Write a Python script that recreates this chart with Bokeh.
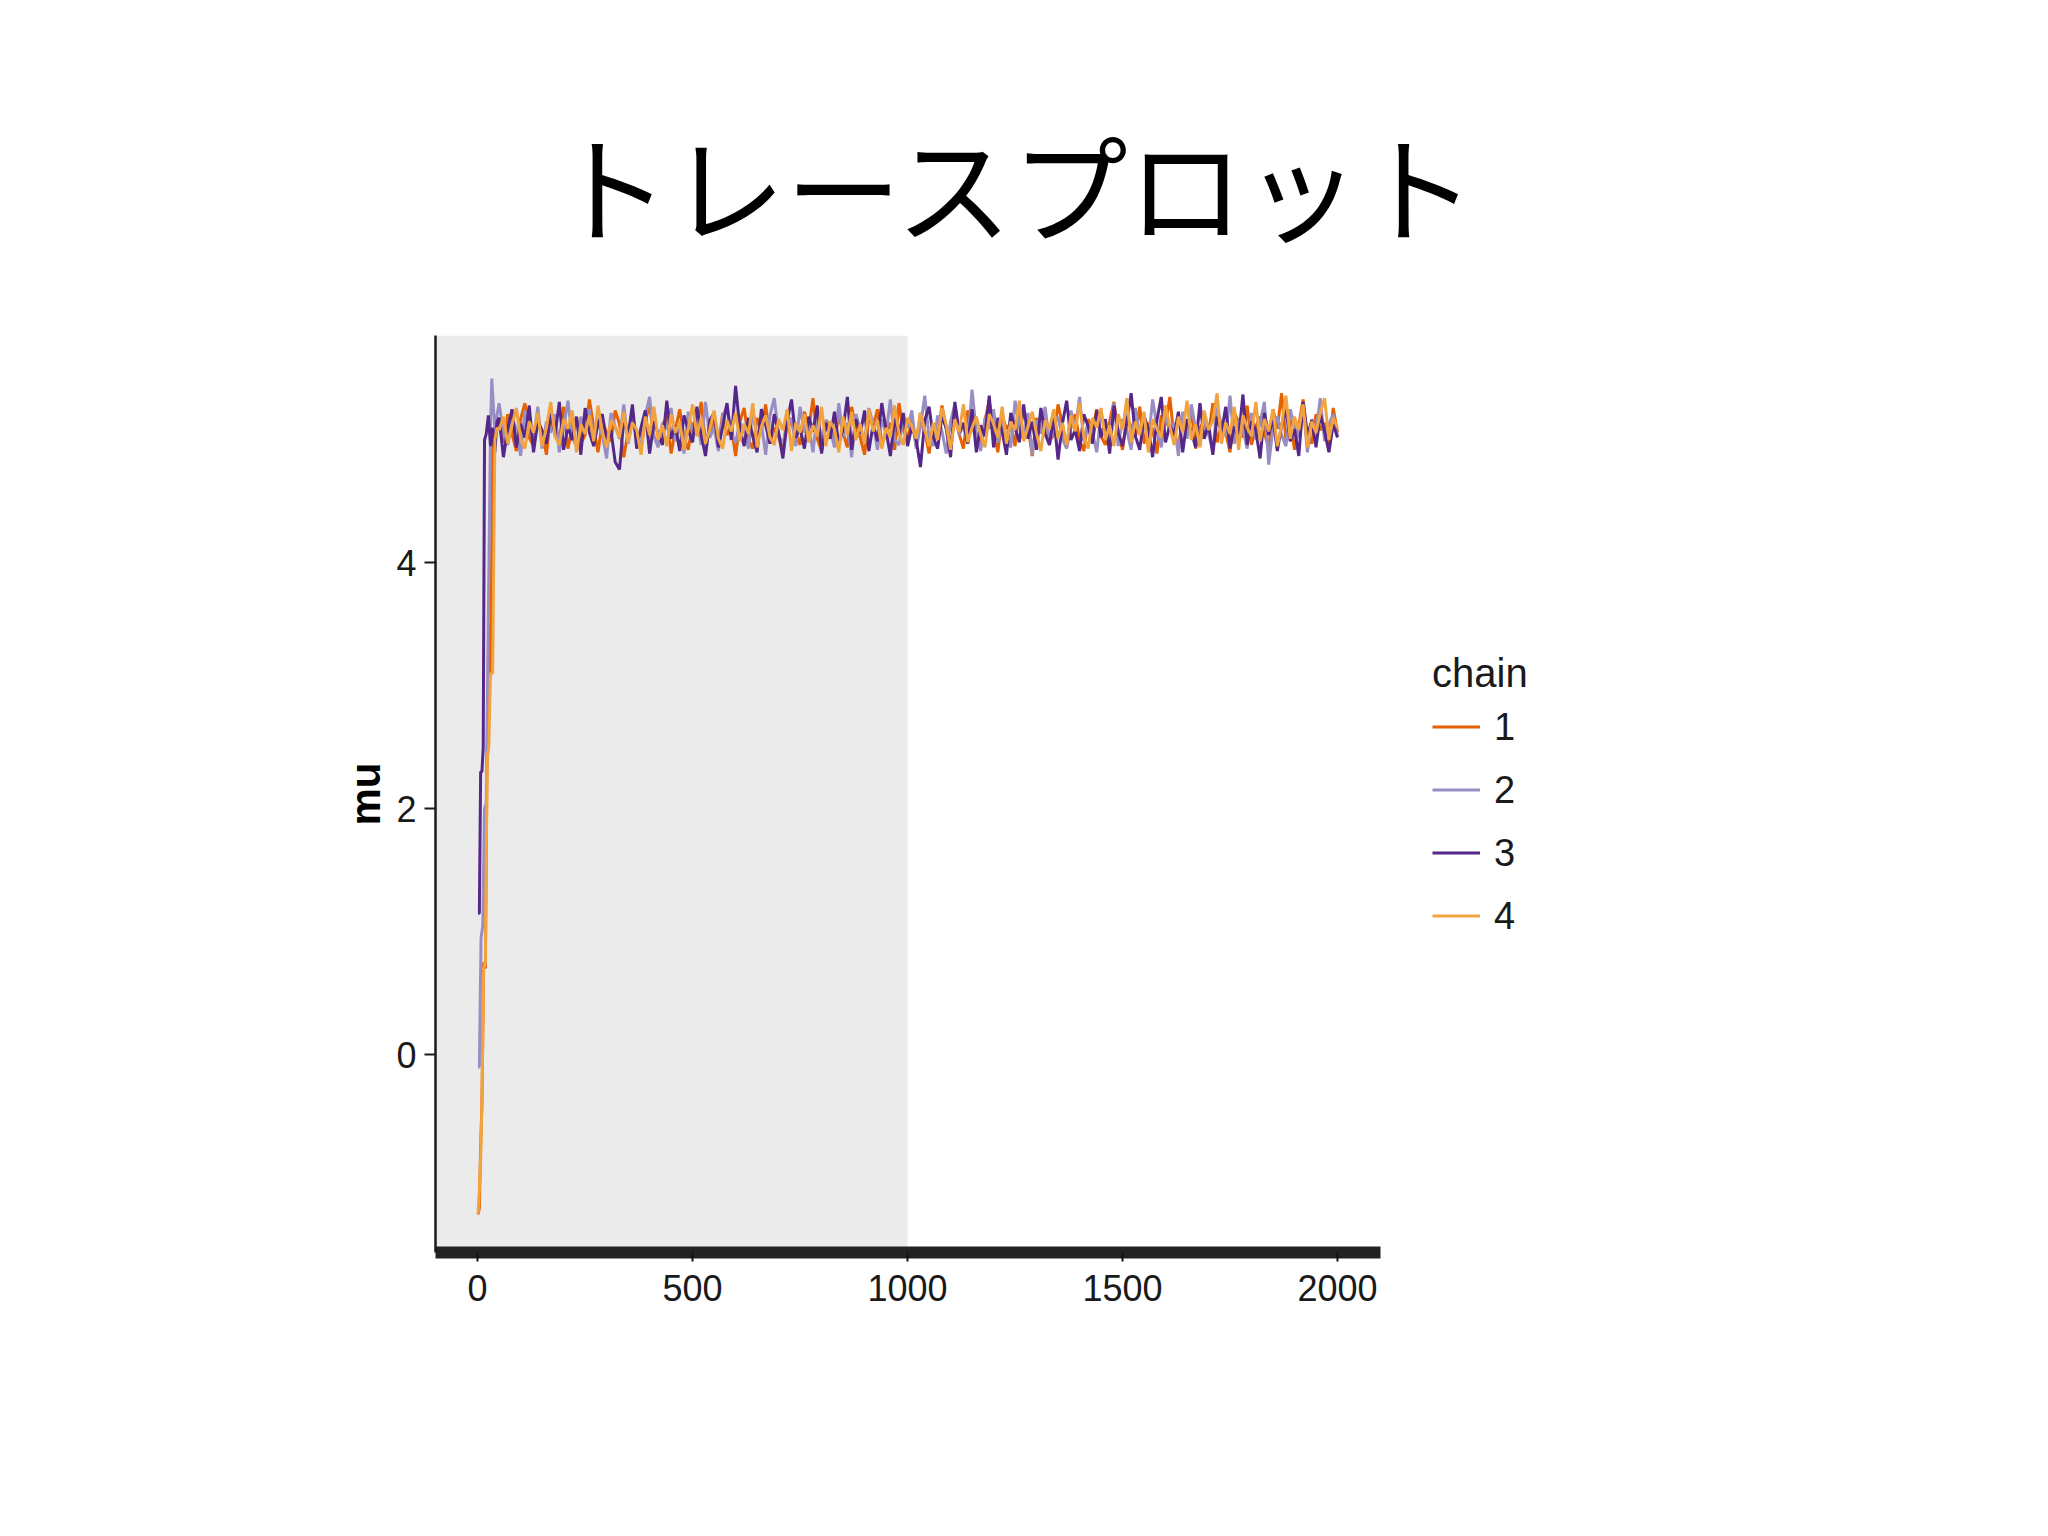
from bokeh.plotting import figure
from bokeh.models import Range1d, FixedTicker, BoxAnnotation, Legend, LegendItem
from bokeh.embed import file_html
from bokeh.resources import INLINE

# ---------------- data ----------------
title_text = "トレースプロット"
y_label = "mu"
legend_title = "chain"
chain_labels = ["1", "2", "3", "4"]
chain_colors = ["#E66101", "#998EC3", "#542788", "#F1A340"]
x_ticks = [0, 500, 1000, 1500, 2000]
y_ticks = [0, 2, 4]
warmup_end = 1000

# early (warmup) part of each chain: iteration, value
warm_iter_1 = [1, 4, 7, 10, 14, 18, 22, 26, 30, 35, 40, 45]
warm_vals_1 = [-1.30, -1.25, -0.75, -0.40, 0.75, 0.70, 2.45, 3.50, 3.10, 4.95, 5.05, 5.15]
warm_iter_2 = [1, 4, 8, 12, 16, 20, 25, 30, 33, 37, 41, 45]
warm_vals_2 = [-0.10, -0.10, 0.95, 1.05, 2.00, 2.05, 3.60, 5.10, 5.50, 5.25, 5.05, 5.20]
warm_iter_3 = [1, 4, 7, 10, 13, 16, 20, 25, 30, 35, 40, 45]
warm_vals_3 = [1.15, 1.15, 2.30, 2.30, 2.50, 5.00, 5.05, 5.20, 4.95, 5.10, 4.90, 5.15]
warm_iter_4 = [1, 4, 7, 10, 14, 18, 22, 26, 30, 35, 40, 45]
warm_vals_4 = [-1.30, -1.10, -0.85, -0.40, 0.70, 0.75, 2.40, 2.50, 3.10, 3.10, 5.00, 5.10]

# stationary part: iterations 50, 60, ..., 2000
steady_iter = list(range(50, 2001, 10))
steady_vals_1 = [
    5.12, 4.98, 5.21, 5.05, 4.91, 5.17, 5.30, 5.02, 4.95, 5.14, 5.08, 4.88, 5.22, 5.11,
    5.00, 5.27, 4.93, 5.09, 5.18, 4.97, 5.04, 5.33, 5.10, 4.90, 5.15, 5.06, 4.99, 5.24,
    5.13, 4.86, 5.07, 5.20, 5.01, 4.94, 5.16, 5.28, 5.03, 4.96, 5.12, 5.19, 4.89, 5.08,
    5.25, 5.02, 4.92, 5.14, 5.09, 5.31, 4.98, 5.06, 5.17, 4.95, 5.22, 5.04, 5.11, 4.87,
    5.15, 5.26, 5.00, 4.93, 5.18, 5.07, 5.29, 4.97, 5.10, 5.03, 4.90, 5.21, 5.13, 5.05,
    4.96, 5.23, 5.08, 5.34, 5.01, 4.91, 5.16, 5.12, 4.99, 5.20, 5.06, 4.94, 5.27, 5.09,
    5.02, 4.88, 5.19, 5.11, 5.25, 4.97, 5.05, 5.14, 4.92, 5.30, 5.08, 5.00, 5.17, 4.95,
    5.22, 5.07, 4.89, 5.13, 5.03, 5.28, 5.10, 4.96, 5.19, 5.05, 4.93, 5.24, 5.12, 5.01,
    4.98, 5.16, 5.32, 5.06, 4.90, 5.20, 5.09, 5.14, 4.95, 5.26, 5.02, 5.11, 4.87, 5.18,
    5.07, 5.23, 4.99, 5.04, 5.29, 5.13, 4.94, 5.10, 5.21, 5.00, 4.91, 5.17, 5.08, 5.25,
    5.03, 4.96, 5.15, 5.31, 5.06, 4.92, 5.19, 5.11, 5.02, 5.27, 4.97, 5.14, 5.09, 4.89,
    5.20, 5.12, 5.35, 5.01, 4.95, 5.18, 5.07, 5.24, 4.93, 5.10, 5.16, 5.04, 5.30, 4.98,
    5.13, 5.06, 4.90, 5.22, 5.15, 5.02, 5.28, 4.96, 5.11, 5.19, 5.05, 4.94, 5.25, 5.09,
    5.38, 5.00, 5.17, 4.92, 5.12, 5.33, 5.04, 4.97, 5.21, 5.08, 5.14, 4.95, 5.26, 5.06,
]
steady_vals_2 = [
    5.30, 5.05, 4.96, 5.18, 5.09, 4.87, 5.24, 5.12, 5.00, 5.27, 4.93, 5.15, 5.06, 5.21,
    4.90, 5.10, 5.32, 5.02, 4.95, 5.19, 5.08, 5.25, 4.98, 5.13, 5.04, 4.85, 5.22, 5.11,
    5.01, 5.29, 4.97, 5.16, 5.07, 4.92, 5.20, 5.35, 5.03, 4.94, 5.14, 5.09, 5.26, 4.99,
    5.12, 4.89, 5.23, 5.06, 5.17, 4.96, 5.31, 5.02, 5.10, 4.91, 5.19, 5.28, 5.05, 4.98,
    5.15, 5.08, 4.93, 5.25, 5.01, 5.13, 4.88, 5.20, 5.34, 5.04, 4.97, 5.11, 5.18, 4.95,
    5.27, 5.06, 5.12, 4.90, 5.22, 5.00, 5.16, 5.09, 4.94, 5.30, 5.03, 5.14, 4.86, 5.21,
    5.08, 4.99, 5.26, 5.13, 4.92, 5.17, 5.05, 5.33, 5.00, 4.96, 5.19, 5.10, 5.24, 4.93,
    5.11, 5.36, 5.02, 4.95, 5.20, 5.07, 4.89, 5.15, 5.29, 5.04, 5.12, 4.97, 5.41, 5.06,
    4.91, 5.18, 5.09, 5.25, 4.98, 5.14, 5.03, 4.94, 5.32, 5.10, 5.00, 5.22, 4.88, 5.16,
    5.05, 5.27, 4.96, 5.12, 5.19, 5.01, 4.93, 5.24, 5.08, 5.35, 4.99, 5.13, 5.06, 4.90,
    5.21, 5.10, 5.02, 5.30, 4.95, 5.17, 5.08, 4.92, 5.26, 5.04, 5.15, 4.98, 5.33, 5.11,
    4.94, 5.20, 5.07, 5.14, 4.87, 5.23, 5.01, 5.29, 5.09, 4.96, 5.18, 5.05, 4.91, 5.27,
    5.12, 5.03, 5.36, 4.97, 5.16, 5.08, 4.93, 5.22, 5.00, 5.14, 5.31, 4.80, 5.10, 5.19,
    5.04, 4.95, 5.25, 5.11, 5.02, 5.28, 4.90, 5.17, 5.07, 5.34, 4.99, 5.13, 5.21, 5.03,
]
steady_vals_3 = [
    5.18, 4.86, 5.09, 5.25, 4.94, 5.13, 5.02, 5.28, 4.90, 5.16, 5.07, 4.97, 5.22, 5.04,
    5.31, 4.92, 5.11, 5.00, 5.19, 4.88, 5.26, 5.06, 4.95, 5.14, 5.21, 4.99, 5.08, 4.82,
    4.76, 5.17, 5.03, 5.29, 4.93, 5.10, 5.24, 4.89, 5.15, 5.05, 4.96, 5.32, 5.01, 5.12,
    4.91, 5.20, 5.08, 4.98, 5.27, 5.04, 4.87, 5.16, 5.22, 4.94, 5.11, 5.30, 5.00, 5.44,
    5.09, 4.95, 5.18, 5.03, 4.90, 5.25, 5.12, 4.97, 5.21, 5.06, 4.85, 5.15, 5.33, 5.02,
    5.10, 4.93, 5.19, 5.07, 5.28, 4.89, 5.14, 5.01, 5.23, 4.96, 5.09, 5.35, 4.92, 5.17,
    5.05, 5.24, 4.91, 5.13, 4.99, 5.30, 5.08, 4.87, 5.18, 5.04, 5.22, 4.95, 5.11, 5.00,
    4.78, 5.16, 5.27, 5.02, 4.93, 5.20, 5.09, 4.86, 5.31, 5.06, 5.14, 4.97, 5.25, 4.90,
    5.12, 5.03, 5.36, 4.94, 5.18, 5.07, 4.88, 5.22, 5.10, 4.98, 5.29, 5.01, 5.15, 4.92,
    5.26, 5.05, 4.96, 5.19, 4.84, 5.13, 5.32, 5.00, 5.08, 4.91, 5.21, 5.11, 4.97, 5.24,
    5.02, 5.17, 4.89, 5.28, 5.06, 4.95, 5.14, 5.38, 5.03, 4.92, 5.20, 5.09, 4.86, 5.16,
    5.35, 4.98, 5.12, 5.04, 5.23, 4.90, 5.17, 5.07, 4.94, 5.30, 5.01, 5.13, 4.88, 5.19,
    5.06, 5.27, 4.93, 5.11, 5.02, 5.37, 4.96, 5.15, 5.08, 4.85, 5.22, 5.04, 5.18, 4.91,
    5.12, 5.25, 4.99, 5.09, 4.87, 5.31, 5.03, 5.16, 4.94, 5.21, 5.07, 4.90, 5.13, 5.02,
]
steady_vals_4 = [
    5.08, 5.19, 4.97, 5.12, 5.26, 5.01, 4.93, 5.15, 5.06, 5.22, 4.95, 5.10, 5.31, 5.03,
    4.96, 5.17, 5.09, 5.24, 4.90, 5.13, 5.05, 5.20, 4.99, 5.28, 5.07, 4.94, 5.16, 5.11,
    5.02, 5.23, 4.98, 5.14, 5.08, 4.88, 5.19, 5.04, 5.27, 5.00, 5.12, 4.95, 5.21, 5.06,
    5.15, 4.92, 5.10, 5.29, 5.03, 5.18, 4.97, 5.09, 5.24, 5.01, 4.93, 5.16, 5.07, 5.22,
    4.99, 5.13, 5.05, 5.30, 4.94, 5.11, 5.20, 5.02, 4.96, 5.17, 5.08, 5.25, 4.91, 5.14,
    5.06, 5.21, 4.98, 5.12, 5.03, 5.27, 4.95, 5.15, 5.09, 4.90, 5.19, 5.04, 5.23, 5.00,
    5.13, 4.97, 5.25, 5.07, 5.16, 4.93, 5.10, 5.02, 5.28, 5.05, 4.96, 5.18, 5.11, 5.01,
    5.22, 5.08, 4.95, 5.14, 5.00, 5.26, 5.12, 4.92, 5.17, 5.06, 5.29, 4.98, 5.10, 5.19,
    5.04, 4.94, 5.21, 5.13, 5.02, 5.27, 4.97, 5.15, 5.08, 5.32, 4.99, 5.11, 5.23, 5.05,
    4.91, 5.16, 5.09, 5.25, 5.01, 5.14, 4.96, 5.20, 5.07, 5.30, 5.03, 4.93, 5.18, 5.10,
    5.26, 5.00, 5.12, 4.95, 5.21, 5.08, 5.34, 4.98, 5.15, 5.04, 5.23, 4.90, 5.17, 5.09,
    5.02, 5.28, 5.11, 4.96, 5.19, 5.06, 5.32, 5.00, 5.13, 4.94, 5.24, 5.08, 5.16, 5.38,
    4.97, 5.14, 5.05, 5.27, 4.92, 5.20, 5.10, 5.03, 5.31, 4.99, 5.17, 5.07, 5.25, 4.95,
    5.12, 5.36, 5.01, 5.19, 5.08, 5.29, 4.94, 5.15, 5.06, 5.22, 5.34, 5.00, 5.18, 5.10,
]

warm_iters = [warm_iter_1, warm_iter_2, warm_iter_3, warm_iter_4]
warm_vals = [warm_vals_1, warm_vals_2, warm_vals_3, warm_vals_4]
steady_vals = [steady_vals_1, steady_vals_2, steady_vals_3, steady_vals_4]

# ---------------- figure ----------------
FONT = "Liberation Sans"

p = figure(
    width=2032, height=1520,
    x_range=Range1d(-98, 2100), y_range=Range1d(-1.61, 5.85),
    output_backend="svg", toolbar_location=None,
    min_border_left=435, min_border_right=652,
    min_border_top=335, min_border_bottom=268,
    background_fill_color="white", border_fill_color="white",
)
p.outline_line_color = None
p.xgrid.visible = False
p.ygrid.visible = False

p.title.text = title_text
p.title.text_font = "Noto Sans CJK JP"
p.title.text_font_size = "116px"
p.title.text_font_style = "normal"
p.title.text_color = "black"
p.title.align = "left"
p.title.offset = 118
p.title.standoff = 138

p.add_layout(BoxAnnotation(right=warmup_end, fill_color="#EBEBEB", fill_alpha=1.0,
                           line_color=None, level="underlay"))

items = []
for k in range(4):
    xs = warm_iters[k] + steady_iter
    ys = warm_vals[k] + steady_vals[k]
    r = p.line(xs, ys, line_color=chain_colors[k], line_width=3.0)
    items.append(LegendItem(label=chain_labels[k], renderers=[r]))

# x axis
p.xaxis.ticker = FixedTicker(ticks=x_ticks)
p.xaxis.minor_tick_line_color = None
p.xaxis.axis_line_width = 12
p.xaxis.axis_line_color = "#222222"
p.xaxis.major_tick_line_color = "#111111"
p.xaxis.major_tick_line_width = 2
p.xaxis.major_tick_in = 0
p.xaxis.major_tick_out = 9
p.xaxis.major_label_standoff = 13
p.xaxis.major_label_text_font = FONT
p.xaxis.major_label_text_font_size = "36px"
p.xaxis.major_label_text_color = "#1a1a1a"

# y axis
p.yaxis.ticker = FixedTicker(ticks=y_ticks)
p.yaxis.minor_tick_line_color = None
p.yaxis.axis_line_width = 2.5
p.yaxis.axis_line_color = "#1a1a1a"
p.yaxis.major_tick_line_color = "#1a1a1a"
p.yaxis.major_tick_line_width = 2
p.yaxis.major_tick_in = 0
p.yaxis.major_tick_out = 11
p.yaxis.major_label_standoff = 8
p.yaxis.major_label_text_font = FONT
p.yaxis.major_label_text_font_size = "36px"
p.yaxis.major_label_text_color = "#1a1a1a"
p.yaxis.axis_label = y_label
p.yaxis.axis_label_text_font = FONT
p.yaxis.axis_label_text_font_style = "bold"
p.yaxis.axis_label_text_font_size = "42px"
p.yaxis.axis_label_text_color = "black"
p.yaxis.axis_label_standoff = 4

legend = Legend(items=items, title=legend_title, location="center_left")
legend.title_text_font = FONT
legend.title_text_font_size = "40px"
legend.title_text_font_style = "normal"
legend.title_text_color = "#1a1a1a"
legend.title_standoff = 10
legend.label_text_font = FONT
legend.label_text_font_size = "38px"
legend.label_text_color = "#1a1a1a"
legend.glyph_width = 48
legend.glyph_height = 40
legend.label_height = 40
legend.label_standoff = 14
legend.spacing = 20
legend.margin = 52
legend.padding = 10
legend.border_line_color = None
legend.background_fill_alpha = 0
p.add_layout(legend, "right")

open("out.html", "w").write(file_html(p, INLINE))
